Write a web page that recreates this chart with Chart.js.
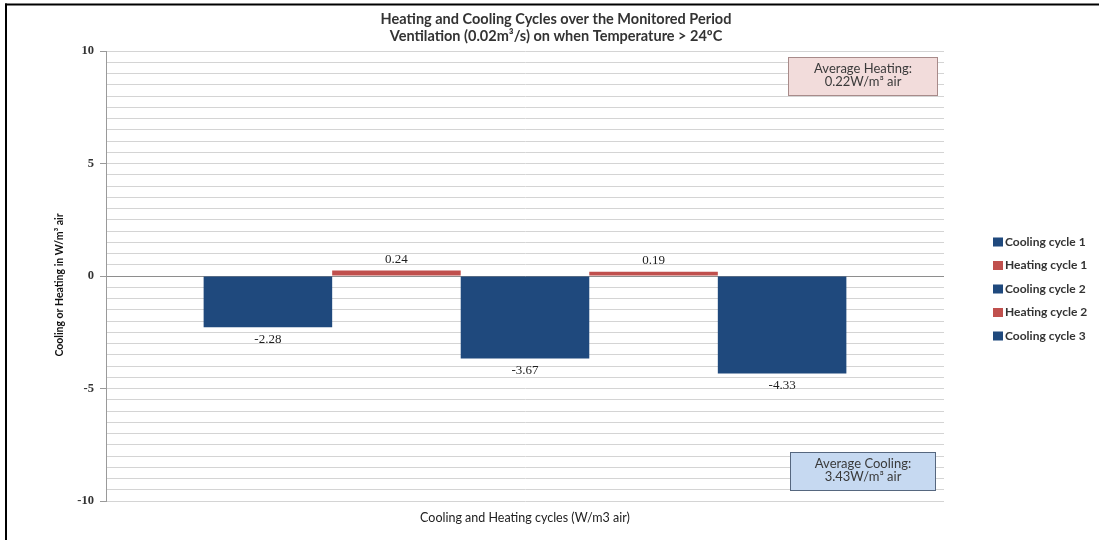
<!DOCTYPE html>
<html>
<head>
<meta charset="utf-8">
<script src="https://cdn.jsdelivr.net/npm/chart.js@4.4.1/dist/chart.umd.min.js"></script>
<style>
  html, body { margin: 0; padding: 0; background: #ffffff; }
  #wrap { width: 1099px; height: 540px; position: relative; }
</style>
</head>
<body>
<div id="wrap"><canvas id="c" width="1099" height="540"></canvas></div>
<script>
// ---- Data ----
const categories = [''];
const seriesNames = ['Cooling cycle 1', 'Heating cycle 1', 'Cooling cycle 2', 'Heating cycle 2', 'Cooling cycle 3'];
const seriesValues = [-2.28, 0.24, -3.67, 0.19, -4.33];
const seriesKinds = ['cool', 'heat', 'cool', 'heat', 'cool'];
const yMajorTicks = [-10, -5, 0, 5, 10];
const averageHeating = 0.22;
const averageCooling = 3.43;
const titleLines = ['Heating and Cooling Cycles over the Monitored Period', 'Ventilation (0.02m\u00B3/s) on when Temperature > 24\u00BAC'];
const yTitle = 'Cooling or Heating in W/m\u00B3 air';
const xTitle = 'Cooling and Heating cycles (W/m3 air)';

const colors = { cool: '#1F497D', heat: '#C0504D' };
const uiFont = 'Lato, "Open Sans", sans-serif';
const numFont = '"Liberation Serif", "DejaVu Serif", serif';

const datasets = seriesNames.map((name, i) => ({
  label: name,
  data: [seriesValues[i]],
  backgroundColor: colors[seriesKinds[i]],
  borderColor: colors[seriesKinds[i]],
  borderWidth: 0,
  categoryPercentage: 0.767,
  barPercentage: 1.0
}));

const framePlugin = {
  id: 'frame',
  beforeDraw(chart) {
    const ctx = chart.ctx;
    ctx.save();
    ctx.fillStyle = '#ffffff';
    ctx.fillRect(0, 0, chart.width, chart.height);
    ctx.restore();
  },
  afterDraw(chart) {
    const ctx = chart.ctx;
    ctx.save();
    ctx.fillStyle = '#000000';
    ctx.fillRect(5, 3.5, chart.width - 5, 2);
    ctx.fillRect(5, 3.5, 2, chart.height - 3.5);
    ctx.restore();
  }
};

const textPlugin = {
  id: 'texts',
  afterDraw(chart) {
    const ctx = chart.ctx;
    ctx.save();
    ctx.textAlign = 'center';
    ctx.textBaseline = 'middle';
    // chart title
    ctx.fillStyle = '#333333';
    ctx.font = 'bold 14.5px ' + uiFont;
    ctx.fillText(titleLines[0], 556, 19);
    ctx.fillText(titleLines[1], 556, 36);
    // x axis title
    ctx.fillStyle = '#222222';
    ctx.font = '12.5px ' + uiFont;
    ctx.fillText(xTitle, 525, 518);
    // y axis title
    ctx.translate(60, 285);
    ctx.rotate(-Math.PI / 2);
    ctx.fillStyle = '#111111';
    ctx.font = 'bold 10.5px ' + uiFont;
    ctx.fillText(yTitle, 0, 0);
    ctx.restore();
  }
};

const labelsPlugin = {
  id: 'valueLabels',
  afterDatasetsDraw(chart) {
    const ctx = chart.ctx;
    ctx.save();
    ctx.font = '13px ' + numFont;
    ctx.fillStyle = '#1E1E1E';
    ctx.textAlign = 'center';
    ctx.textBaseline = 'middle';
    chart.data.datasets.forEach((ds, i) => {
      const meta = chart.getDatasetMeta(i);
      meta.data.forEach((bar, j) => {
        const v = ds.data[j];
        const y = v >= 0 ? bar.y - 11 : bar.y + 12;
        ctx.fillText(v.toFixed(2), bar.x, y);
      });
    });
    ctx.restore();
  }
};

const notesPlugin = {
  id: 'notes',
  afterDraw(chart) {
    const ctx = chart.ctx;
    const boxes = [
      { x: 788, y: 57, w: 150, h: 39, fill: '#F2DCDB', stroke: '#A88B8A', lines: ['Average Heating:', averageHeating.toFixed(2) + 'W/m\u00B3 air'] },
      { x: 790, y: 452, w: 146, h: 39, fill: '#C6D9F1', stroke: '#56677F', lines: ['Average Cooling:', averageCooling.toFixed(2) + 'W/m\u00B3 air'] }
    ];
    ctx.save();
    boxes.forEach(b => {
      ctx.fillStyle = b.fill;
      ctx.fillRect(b.x, b.y, b.w, b.h);
      ctx.strokeStyle = b.stroke;
      ctx.lineWidth = 1;
      ctx.strokeRect(b.x + 0.5, b.y + 0.5, b.w - 1, b.h - 1);
      ctx.fillStyle = '#3A3A3A';
      ctx.font = '13px ' + uiFont;
      ctx.textAlign = 'center';
      ctx.textBaseline = 'middle';
      ctx.fillText(b.lines[0], b.x + b.w / 2, b.y + 11.5);
      ctx.fillText(b.lines[1], b.x + b.w / 2, b.y + 25);
    });
    ctx.restore();
  }
};

const legendPlugin = {
  id: 'sideLegend',
  afterDraw(chart) {
    const ctx = chart.ctx;
    ctx.save();
    ctx.font = 'bold 12px ' + uiFont;
    ctx.textAlign = 'left';
    ctx.textBaseline = 'middle';
    chart.data.datasets.forEach((ds, i) => {
      const y = 242 + i * 23.5;
      ctx.fillStyle = ds.backgroundColor;
      ctx.fillRect(993, y - 4.5, 10, 9);
      ctx.fillStyle = '#333333';
      ctx.fillText(ds.label, 1005, y);
    });
    ctx.restore();
  }
};

new Chart(document.getElementById('c'), {
  type: 'bar',
  data: { labels: categories, datasets: datasets },
  options: {
    responsive: false,
    animation: false,
    devicePixelRatio: 1,
    layout: { padding: { left: 0, right: 155, top: 51, bottom: 0 } },
    plugins: {
      legend: { display: false },
      tooltip: { enabled: false },
      title: { display: false }
    },
    scales: {
      x: {
        grid: { display: false, drawTicks: false },
        border: { display: false },
        ticks: { display: false },
        title: { display: false },
        afterFit(scale) { scale.height = 39; }
      },
      y: {
        min: -10,
        max: 10,
        afterBuildTicks(scale) {
          const t = [];
          for (let k = -20; k <= 20; k++) t.push({ value: k * 0.5 });
          scale.ticks = t;
        },
        ticks: {
          color: '#333333',
          font: { family: numFont, size: 12.5, weight: 'bold' },
          padding: 6,
          autoSkip: false,
          callback(v) { return yMajorTicks.includes(v) ? String(v) : ''; }
        },
        grid: {
          color(ctx) { return ctx.tick && ctx.tick.value === 0 ? '#8E8E8E' : '#D4D4D4'; },
          lineWidth: 1,
          tickLength: 6,
          tickColor(ctx) { return ctx.tick && yMajorTicks.includes(ctx.tick.value) ? '#9A9A9A' : 'rgba(0,0,0,0)'; }
        },
        border: { display: true, color: '#9A9A9A' },
        title: { display: false },
        afterFit(scale) { scale.width = 106; }
      }
    }
  },
  plugins: [framePlugin, labelsPlugin, notesPlugin, legendPlugin, textPlugin]
});
</script>
</body>
</html>
